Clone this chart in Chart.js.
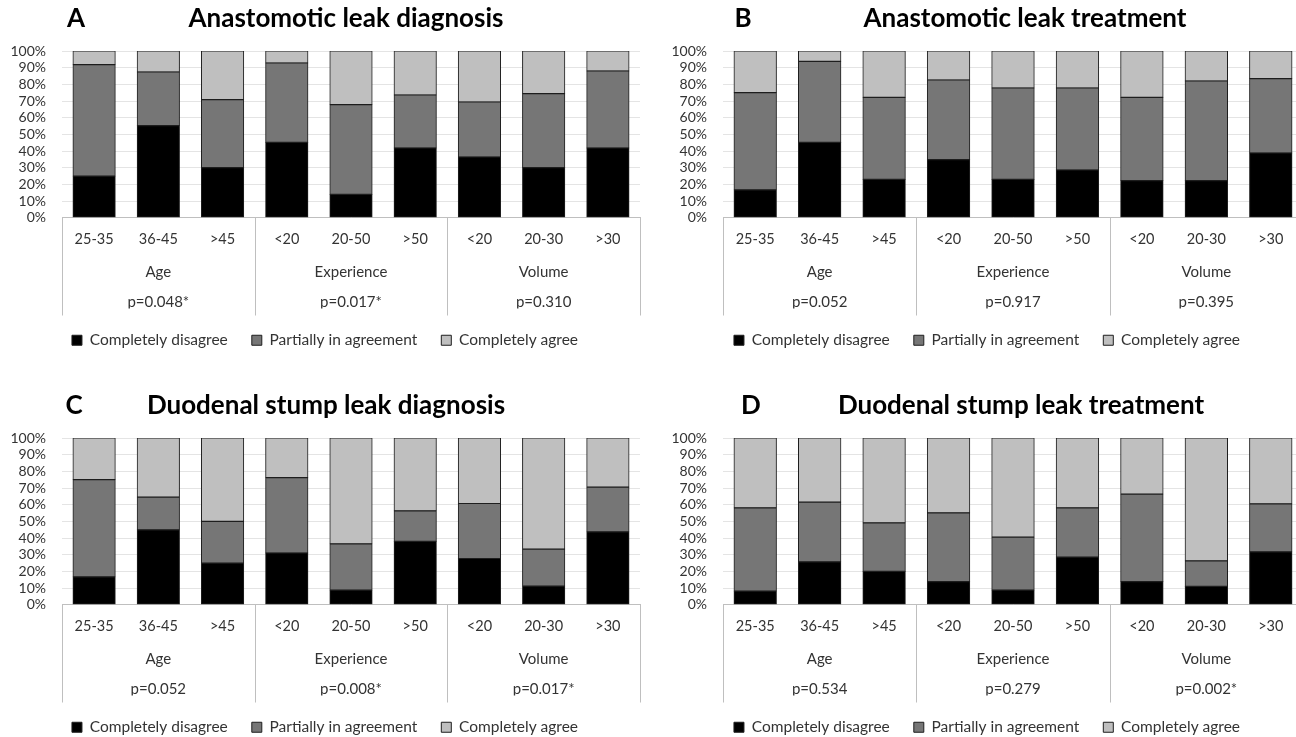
<!DOCTYPE html>
<html lang="en">
<head>
    <meta charset="UTF-8">
    <title>Leak diagnosis and treatment agreement</title>
    <script src="https://cdn.jsdelivr.net/npm/chart.js"></script>
    <style>
        html, body { margin: 0; padding: 0; background: #fff; overflow: hidden; width: 1296px; height: 737px; }
        .panel { position: absolute; height: 358px; }
    </style>
</head>
<body>
    <div class="panel" style="left:0; top:0; width:662px;"><canvas id="chartA"></canvas></div>
    <div class="panel" style="left:661px; top:0; width:664px;"><canvas id="chartB"></canvas></div>
    <div class="panel" style="left:0; top:387px; width:662px;"><canvas id="chartC"></canvas></div>
    <div class="panel" style="left:661px; top:387px; width:664px;"><canvas id="chartD"></canvas></div>

    <script>
        // categories shared by all four panels
        const categories = ['25-35', '36-45', '>45', '<20', '20-50', '>50', '<20', '20-30', '>30'];
        const groups = ['Age', 'Experience', 'Volume'];
        const seriesNames = ['Completely disagree', 'Partially in agreement', 'Completely agree'];

        // A - Anastomotic leak diagnosis (%)
        const aDisagree = [25, 55.2, 30, 45.2, 14, 41.8, 36.4, 30, 41.8];
        const aPartial  = [66.8, 32.2, 40.8, 47.6, 53.8, 31.8, 33, 44.4, 46.2];
        const aAgree    = [8.2, 12.6, 29.2, 7.2, 32.2, 26.4, 30.6, 25.6, 12];
        const aPValues  = ['p=0.048*', 'p=0.017*', 'p=0.310'];

        // B - Anastomotic leak treatment (%)
        const bDisagree = [16.7, 45.2, 23, 34.8, 23, 28.6, 22.2, 22.2, 38.8];
        const bPartial  = [58.3, 48.6, 49.2, 47.8, 54.8, 49.2, 50, 59.8, 44.6];
        const bAgree    = [25, 6.2, 27.8, 17.4, 22.2, 22.2, 27.8, 18, 16.6];
        const bPValues  = ['p=0.052', 'p=0.917', 'p=0.395'];

        // C - Duodenal stump leak diagnosis (%)
        const cDisagree = [16.7, 44.9, 25, 31, 8.8, 38, 27.7, 11.1, 43.7];
        const cPartial  = [58.3, 19.6, 25, 45.2, 27.7, 18.3, 33, 22.2, 26.8];
        const cAgree    = [25, 35.5, 50, 23.8, 63.5, 43.7, 39.3, 66.7, 29.5];
        const cPValues  = ['p=0.052', 'p=0.008*', 'p=0.017*'];

        // D - Duodenal stump leak treatment (%)
        const dDisagree = [8.2, 25.7, 20, 13.8, 8.8, 28.5, 13.8, 11, 31.7];
        const dPartial  = [49.9, 35.8, 29.1, 41.3, 31.7, 29.6, 52.5, 15.3, 28.8];
        const dAgree    = [41.9, 38.5, 50.9, 44.9, 59.5, 41.9, 33.7, 73.7, 39.5];
        const dPValues  = ['p=0.534', 'p=0.279', 'p=0.002*'];

        const fillColors = ['#000000', '#767676', '#bfbfbf'];
        const textColor = '#333333';

        Chart.defaults.font.family = 'Lato';
        Chart.defaults.font.size = 14;
        Chart.defaults.color = textColor;

        // panel letter, title and the group separator lines under the x axis
        const panelDecor = {
            id: 'panelDecor',
            afterDraw(chart, args, opts) {
                const ctx = chart.ctx;
                const x = chart.scales.x;
                const xp = chart.scales.xp;
                ctx.save();
                ctx.strokeStyle = '#bfbfbf';
                ctx.lineWidth = 1;
                [-0.5, 2.5, 5.5, 8.5].forEach(b => {
                    const px = Math.round(x.getPixelForValue(b)) + 0.5;
                    ctx.beginPath();
                    ctx.moveTo(px, x.top);
                    ctx.lineTo(px, xp.bottom + 7);
                    ctx.stroke();
                });
                ctx.fillStyle = '#000';
                ctx.font = 'bold 26px Lato';
                ctx.textAlign = 'center';
                ctx.textBaseline = 'middle';
                ctx.fillText(opts.letter, opts.letterX, opts.y);
                ctx.fillText(opts.text, opts.titleX, opts.y);
                ctx.restore();
            }
        };

        // fixed axis band heights (Chart.js would double the tick padding otherwise)
        const fixHeight = h => s => { s.height = h; };

        function makePanel(canvasId, letter, title, values, pValues, letterX, titleX) {
            const datasets = values.map((data, i) => ({
                label: seriesNames[i],
                data: data,
                backgroundColor: fillColors[i],
                borderColor: '#1e1e1e',
                borderWidth: 1,
                borderSkipped: false,
                inflateAmount: 0.4,
                barPercentage: 0.66,
                categoryPercentage: 1
            }));

            return new Chart(document.getElementById(canvasId), {
                type: 'bar',
                data: { labels: categories, datasets: datasets },
                options: {
                    responsive: true,
                    maintainAspectRatio: false,
                    animation: false,
                    layout: { padding: { top: 51, left: 10, right: 22, bottom: 0 } },
                    scales: {
                        x: {
                            stacked: true,
                            weight: 0,
                            grid: { display: false, drawTicks: false },
                            border: { color: '#bfbfbf' },
                            ticks: { padding: 13.3, maxRotation: 0, autoSkip: false, font: { size: 14.5 } },
                            afterFit: fixHeight(30.4)
                        },
                        xg: {
                            type: 'category',
                            labels: groups,
                            position: 'bottom',
                            offset: true,
                            weight: 1,
                            grid: { display: false, drawTicks: false },
                            border: { display: false },
                            ticks: { padding: 15, maxRotation: 0, font: { size: 15 } },
                            afterFit: fixHeight(32.4)
                        },
                        xp: {
                            type: 'category',
                            labels: pValues,
                            position: 'bottom',
                            offset: true,
                            weight: 2,
                            grid: { display: false, drawTicks: false },
                            border: { display: false },
                            ticks: { padding: 13, maxRotation: 0, font: { size: 15 } },
                            afterFit: fixHeight(28)
                        },
                        y: {
                            stacked: true,
                            min: 0,
                            max: 100,
                            grid: { color: '#e4e4e4', drawTicks: false },
                            border: { display: false },
                            ticks: { stepSize: 10, padding: 16, autoSkip: false, callback: v => v + '%' },
                            afterFit: s => { s.width = 52; }
                        }
                    },
                    plugins: {
                        legend: {
                            position: 'bottom',
                            labels: {
                                boxWidth: 10,
                                boxHeight: 10,
                                padding: 24,
                                font: { size: 15.5 }
                            }
                        },
                        tooltip: { enabled: false },
                        panelDecor: { letter: letter, text: title, letterX: letterX, titleX: titleX, y: 19 }
                    }
                },
                plugins: [panelDecor]
            });
        }

        makePanel('chartA', 'A', 'Anastomotic leak diagnosis', [aDisagree, aPartial, aAgree], aPValues, 76, 346);
        makePanel('chartB', 'B', 'Anastomotic leak treatment', [bDisagree, bPartial, bAgree], bPValues, 82, 364);
        makePanel('chartC', 'C', 'Duodenal stump leak diagnosis', [cDisagree, cPartial, cAgree], cPValues, 74, 326);
        makePanel('chartD', 'D', 'Duodenal stump leak treatment', [dDisagree, dPartial, dAgree], dPValues, 90, 360);
    </script>
</body>
</html>
